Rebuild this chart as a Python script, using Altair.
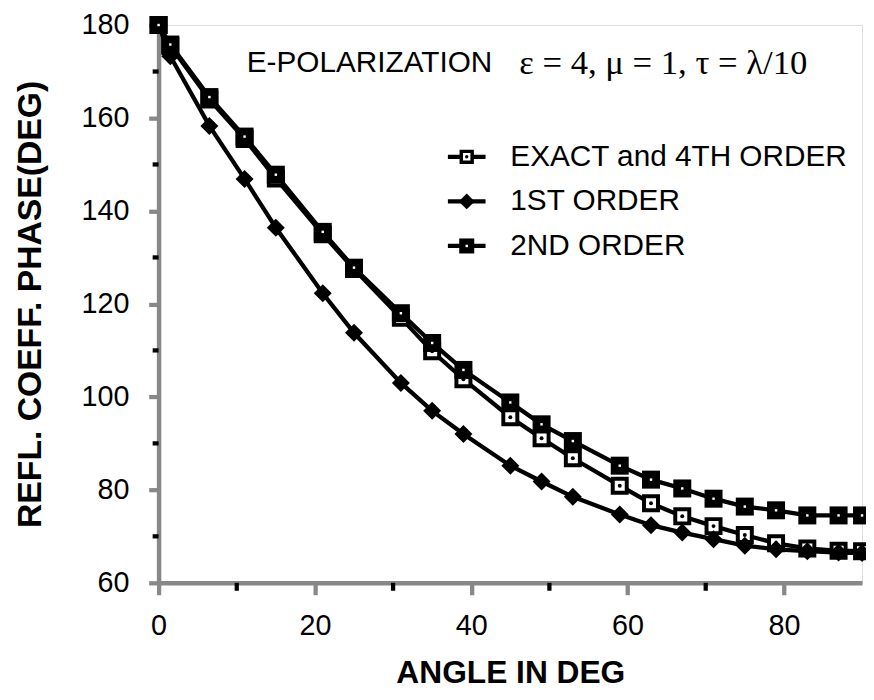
import altair as alt
import pandas as pd

# ---- data ----
angles = [0, 1.5, 6.5, 11, 15, 21, 25, 31, 35, 39, 45, 49, 53, 59, 63, 67, 71, 75, 79, 83, 87, 90]
exact = [180, 175.5, 164, 155.5, 147, 135, 127.5, 117, 109.8, 103.8, 95.6, 91.1, 86.8, 80.9,
         77.1, 74.3, 72.2, 70.3, 68.5, 67.4, 66.9, 66.8]
first = [180, 173.3, 158.3, 146.9, 136.4, 122.3, 113.8, 103, 97, 92, 85.2, 81.8, 78.5, 74.7,
         72.4, 70.8, 69.4, 68, 67.2, 66.8, 66.5, 66.4]
second = [180, 175.8, 164.5, 156, 147.8, 135.5, 127.8, 118, 111.6, 105.8, 98.8, 94.1, 90.5, 85.2,
          82.2, 80.3, 78.1, 76.4, 75.6, 74.5, 74.5, 74.5]
series_names = ["EXACT and 4TH ORDER", "1ST ORDER", "2ND ORDER"]

x_major = [0, 20, 40, 60, 80]
x_minor = [10, 30, 50, 70]
y_major = [60, 80, 100, 120, 140, 160, 180]
y_minor = [70, 90, 110, 130, 150, 170]

title_main = "E-POLARIZATION"
title_params = "\u03b5 = 4,  \u03bc = 1,  \u03c4 = \u03bb/10"

# ---- tables ----
rows = []
for name, vals in zip(series_names, [exact, first, second]):
    for a, v in zip(angles, vals):
        rows.append({"angle": a, "value": v, "series": name})
df = pd.DataFrame(rows)
df_xminor = pd.DataFrame({"angle": x_minor})
df_yminor = pd.DataFrame({"value": y_minor})
one = pd.DataFrame({"a": [0]})

W, H = 710, 563
FONT = "Liberation Sans"
LW = 4.3

xscale = alt.Scale(domain=[0, 90], nice=False, zero=False)
yscale = alt.Scale(domain=[60, 180], nice=False, zero=False)
xaxis = alt.Axis(values=x_major, title="ANGLE IN DEG", tickSize=12, tickWidth=LW, domainWidth=4.5,
                 labelFontSize=29, labelPadding=17, titleFontSize=32, titleFontWeight="bold",
                 titlePadding=18, grid=False, labelFlush=False, labelOverlap=False)
yaxis = alt.Axis(values=y_major, title="REFL. COEFF.  PHASE(DEG)", tickSize=10, tickWidth=LW,
                 domainWidth=4.5, labelFontSize=29, labelPadding=20, titleFontSize=34,
                 titleFontWeight="bold", titlePadding=34, grid=False, labelFlush=False,
                 labelOverlap=False)

X = alt.X("angle:Q", scale=xscale, axis=xaxis)
Y = alt.Y("value:Q", scale=yscale, axis=yaxis)

base = alt.Chart(df).encode(x=X, y=Y)

lines = base.mark_line(color="black", strokeWidth=LW).encode(detail="series:N")

ex = base.transform_filter(alt.datum.series == series_names[0])
fo = base.transform_filter(alt.datum.series == series_names[1])
se = base.transform_filter(alt.datum.series == series_names[2])

ex_sq = ex.mark_point(shape="square", filled=True, fill="white", stroke="black",
                      strokeWidth=4, size=200, opacity=1)
ex_dot = ex.mark_point(shape="circle", filled=True, color="black", size=16, opacity=1)
fo_dia = fo.mark_point(shape="diamond", filled=True, color="black", size=330, opacity=1)
se_sq = se.mark_point(shape="square", filled=True, color="black", size=330, opacity=1)
se_dot = se.mark_point(shape="square", filled=True, color="white", size=6, opacity=1)

xminor = alt.Chart(df_xminor).mark_rule(color="black", strokeWidth=LW).encode(
    x=alt.X("angle:Q", scale=xscale, axis=xaxis), y=alt.value(H), y2=alt.value(H + 8))
yminor = alt.Chart(df_yminor).mark_rule(color="black", strokeWidth=LW).encode(
    y=alt.Y("value:Q", scale=yscale, axis=yaxis), x=alt.value(-6), x2=alt.value(0))

# ---- title text inside plot ----
t1 = alt.Chart(one).mark_text(font=FONT, fontSize=30, align="left", baseline="middle",
                              color="black").encode(
    x=alt.value(89), y=alt.value(38), text=alt.value(title_main))
t2 = alt.Chart(one).mark_text(font="Liberation Serif", fontSize=35, align="left",
                              baseline="middle", color="black").encode(
    x=alt.value(364), y=alt.value(38), text=alt.value(title_params))

# ---- manual legend ----
leg_layers = []
row_y = [133, 178, 223]
for i, name in enumerate(series_names):
    yy = row_y[i]
    leg_layers.append(alt.Chart(one).mark_rule(color="black", strokeWidth=LW).encode(
        x=alt.value(292), x2=alt.value(330), y=alt.value(yy)))
    leg_layers.append(alt.Chart(one).mark_text(font=FONT, fontSize=30, align="left",
                                               baseline="middle", color="black").encode(
        x=alt.value(355), y=alt.value(yy), text=alt.value(name)))
    if i == 0:
        leg_layers.append(alt.Chart(one).mark_point(shape="square", filled=True, fill="white",
                                                    stroke="black", strokeWidth=3.5, size=120,
                                                    opacity=1).encode(
            x=alt.value(311), y=alt.value(yy)))
        leg_layers.append(alt.Chart(one).mark_point(shape="circle", filled=True, color="black",
                                                    size=12, opacity=1).encode(
            x=alt.value(311), y=alt.value(yy)))
    elif i == 1:
        leg_layers.append(alt.Chart(one).mark_point(shape="diamond", filled=True, color="black",
                                                    size=260, opacity=1).encode(
            x=alt.value(311), y=alt.value(yy)))
    else:
        leg_layers.append(alt.Chart(one).mark_point(shape="square", filled=True, color="black",
                                                    size=230, opacity=1).encode(
            x=alt.value(311), y=alt.value(yy)))
        leg_layers.append(alt.Chart(one).mark_point(shape="square", filled=True, color="white",
                                                    size=6, opacity=1).encode(
            x=alt.value(311), y=alt.value(yy)))

chart = alt.layer(
    xminor, yminor, lines, ex_sq, ex_dot, fo_dia, se_sq, se_dot, t1, t2, *leg_layers
).properties(
    width=W, height=H,
    autosize=alt.AutoSizeParams(type="none"),
    padding={"left": 152, "top": 14, "right": 4, "bottom": 106},
).configure_view(
    stroke="black", strokeWidth=4
).configure_axis(
    domainColor="black", tickColor="black", labelColor="black", titleColor="black",
    labelFont=FONT, titleFont=FONT
).configure(background="white")

chart.save("out.html", embed_options={"renderer": "svg", "actions": False})
